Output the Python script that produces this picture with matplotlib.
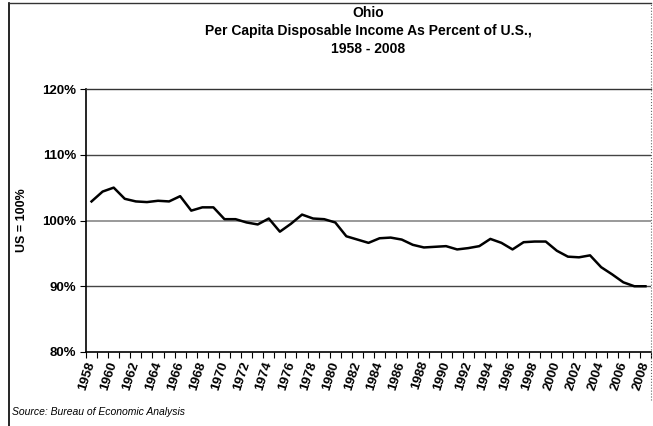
import matplotlib
matplotlib.use('Agg')
import matplotlib.pyplot as plt
from matplotlib.lines import Line2D
import numpy as np

plt.rcParams['font.family'] = ['Liberation Sans', 'DejaVu Sans']

# ============================================
# 数据：俄亥俄州人均可支配收入占全美比例
# ============================================
years = list(range(1958, 2009))
pct_of_us = [
    102.9, 104.4, 105.0, 103.3, 102.9, 102.8, 103.0, 102.9, 103.7, 101.5,
    102.0, 102.0, 100.2, 100.2, 99.7, 99.4, 100.3, 98.3, 99.5, 100.9,
    100.3, 100.2, 99.7, 97.6, 97.1, 96.6, 97.3, 97.4, 97.1, 96.3,
    95.9, 96.0, 96.1, 95.6, 95.8, 96.1, 97.2, 96.6, 95.6, 96.7,
    96.8, 96.8, 95.4, 94.5, 94.4, 94.7, 92.9, 91.8, 90.6, 90.0,
    90.0,
]
y_ticks = [80, 90, 100, 110, 120]
y_tick_labels = ['80%', '90%', '100%', '110%', '120%']

W, H = 653, 426
fig = plt.figure(figsize=(W / 100, H / 100), dpi=100)

# 坐标区（像素位置换算成比例）
left, right, top, bottom = 86, 651, 89, 352
ax = fig.add_axes([left / W, 1 - bottom / H, (right - left) / W, (bottom - top) / H])

x = np.arange(len(years))
ax.plot(x, pct_of_us, color='black', linewidth=1.8, solid_joinstyle='round')

ax.set_xlim(-0.5, len(years) - 0.5)
ax.set_ylim(80, 120)

# 网格线
for v in [90, 110]:
    ax.axhline(v, color='#444444', linewidth=1.0, zorder=0)
ax.axhline(100, color='#888888', linewidth=1.2, zorder=0)

# y 轴
ax.set_yticks(y_ticks)
ax.set_yticklabels(y_tick_labels, fontsize=9.5, fontweight='bold')
ax.tick_params(axis='y', direction='out', length=4, width=0.8, pad=3)
ax.set_ylabel('US = 100%', fontsize=9, fontweight='bold', labelpad=10)

# x 轴：刻度在类别之间，标签每两年一个
ax.set_xticks(x[::2])
ax.set_xticklabels([str(y) for y in years[::2]], rotation=72, ha='right',
                   va='center', rotation_mode='anchor',
                   fontsize=9.5, fontweight='bold')
ax.set_xticks(np.arange(len(years) + 1) - 0.5, minor=True)
ax.tick_params(axis='x', which='major', length=0, pad=7)
ax.tick_params(axis='x', which='minor', direction='out', length=4, width=0.8)

for side in ['left', 'bottom']:
    ax.spines[side].set_linewidth(1.2)
    ax.spines[side].set_color('black')
ax.spines['top'].set_color('#333333')
ax.spines['top'].set_linewidth(1.0)
ax.spines['right'].set_visible(False)

# 标题
cx = (left + right) / 2 / W
fig.text(cx, 1 - 13 / H, 'Ohio', ha='center', va='center', fontsize=10, fontweight='bold')
fig.text(cx, 1 - 31 / H, 'Per Capita Disposable Income As Percent of U.S.,',
         ha='center', va='center', fontsize=10, fontweight='bold')
fig.text(cx, 1 - 49 / H, '1958 - 2008', ha='center', va='center', fontsize=10, fontweight='bold')

# 数据来源
fig.text(12 / W, 1 - 412 / H, 'Source: Bureau of Economic Analysis',
         ha='left', va='center', fontsize=7.5, style='italic')

# 外框
fig.add_artist(Line2D([9 / W, 9 / W], [0, 1 - 3 / H], transform=fig.transFigure,
                      color='black', linewidth=1.2))
fig.add_artist(Line2D([9 / W, 651 / W], [1 - 3 / H, 1 - 3 / H], transform=fig.transFigure,
                      color='#333333', linewidth=1.0))
fig.add_artist(Line2D([651 / W, 651 / W], [1 - 400 / H, 1 - 3 / H], transform=fig.transFigure,
                      color='#666666', linewidth=0.8, linestyle=':'))

fig.savefig('out.png', dpi=100)
